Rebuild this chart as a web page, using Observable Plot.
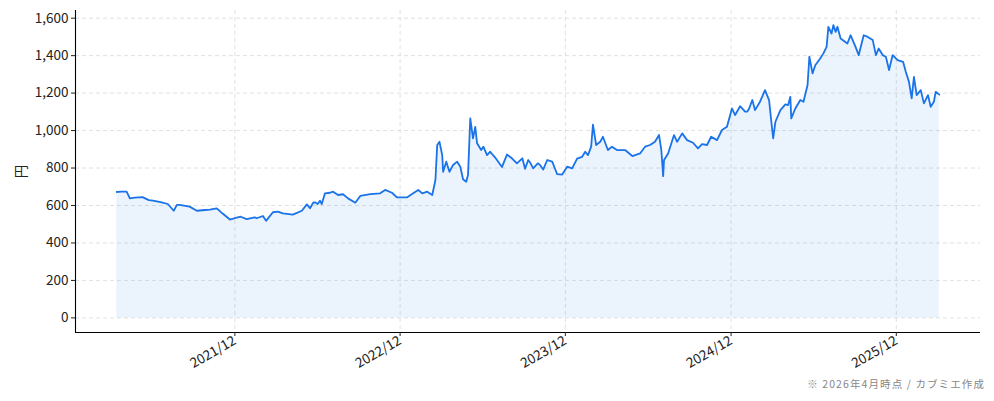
<!DOCTYPE html>
<html>
<head>
<meta charset="utf-8">
<script src="https://cdn.jsdelivr.net/npm/d3@7"></script>
<script src="https://cdn.jsdelivr.net/npm/@observablehq/plot@0.6"></script>
<style>
  html, body { margin: 0; padding: 0; background: #fff; }
  #wrap { position: relative; width: 994px; height: 401px; font-family: "Noto Sans CJK JP", "Noto Sans", sans-serif; }
  #caption { position: absolute; right: 9px; top: 376px; font-size: 10.5px; color: #888; letter-spacing: 1.1px; }
</style>
</head>
<body>
<div id="wrap"><div id="chart"></div><div id="caption">※ 2026年4月時点 / カブミエ作成</div></div>
<script>
const dates = [
"2021-03-15","2021-03-25","2021-04-06","2021-04-13","2021-04-24","2021-05-11","2021-05-25","2021-06-03","2021-06-20","2021-07-06",
"2021-07-19","2021-07-26","2021-08-01","2021-08-23","2021-09-08","2021-09-26","2021-10-07","2021-10-22","2021-11-04","2021-11-20",
"2021-12-05","2021-12-14","2021-12-27","2022-01-14","2022-01-18","2022-02-01","2022-02-08","2022-02-23","2022-03-06","2022-03-17",
"2022-04-08","2022-04-28","2022-05-09","2022-05-16","2022-05-23","2022-05-27","2022-06-02","2022-06-07","2022-06-11","2022-06-18",
"2022-06-29","2022-07-06","2022-07-17","2022-07-28","2022-08-08","2022-08-24","2022-09-04","2022-09-26","2022-10-18","2022-10-29",
"2022-11-13","2022-11-24","2022-12-16","2022-12-30","2023-01-10","2023-01-19","2023-01-30","2023-02-10","2023-02-17","2023-02-21",
"2023-02-26","2023-03-04","2023-03-06","2023-03-13","2023-03-20","2023-03-28","2023-04-06","2023-04-13","2023-04-19","2023-04-26",
"2023-04-30","2023-05-05","2023-05-11","2023-05-16","2023-05-20","2023-05-29","2023-06-03","2023-06-11","2023-06-18","2023-06-29",
"2023-07-14","2023-07-25","2023-08-05","2023-08-16","2023-08-28","2023-09-03","2023-09-10","2023-09-14","2023-09-21","2023-09-29",
"2023-10-02","2023-10-06","2023-10-13","2023-10-22","2023-11-02","2023-11-13","2023-11-24","2023-12-05","2023-12-16","2023-12-27",
"2024-01-07","2024-01-14","2024-01-20","2024-01-27","2024-01-31","2024-02-07","2024-02-16","2024-02-22","2024-03-04","2024-03-13",
"2024-03-24","2024-04-11","2024-04-27","2024-05-14","2024-05-25","2024-06-05","2024-06-16","2024-06-25","2024-06-30","2024-07-04",
"2024-07-06","2024-07-15","2024-07-28","2024-08-04","2024-08-15","2024-08-26","2024-09-08","2024-09-19","2024-09-28","2024-10-09",
"2024-10-18","2024-10-31","2024-11-11","2024-11-22","2024-12-03","2024-12-10","2024-12-21","2025-01-01","2025-01-06","2025-01-10",
"2025-01-17","2025-01-23","2025-02-03","2025-02-14","2025-02-23","2025-02-28","2025-03-04","2025-03-09","2025-03-20","2025-03-31",
"2025-04-06","2025-04-11","2025-04-13","2025-04-22","2025-05-03","2025-05-10","2025-05-19","2025-05-23","2025-05-30","2025-06-05",
"2025-06-16","2025-06-23","2025-06-30","2025-07-04","2025-07-11","2025-07-15","2025-07-20","2025-07-24","2025-07-31","2025-08-15",
"2025-08-22","2025-09-02","2025-09-09","2025-09-20","2025-09-29","2025-10-10","2025-10-17","2025-10-23","2025-11-01","2025-11-08",
"2025-11-15","2025-11-23","2025-12-04","2025-12-16","2025-12-22","2025-12-29","2026-01-04","2026-01-09","2026-01-15","2026-01-24",
"2026-01-31","2026-02-09","2026-02-15","2026-02-22","2026-02-26","2026-03-06"
];
const prices = [
672,674,674,638,642,645,629,626,618,608,
572,603,603,594,572,576,578,585,557,525,
535,540,527,537,532,544,518,564,567,558,
551,572,606,585,615,617,608,626,608,665,
668,674,656,660,638,615,651,661,665,683,
668,643,643,665,683,665,674,656,736,923,
940,869,780,834,780,816,834,807,740,727,
763,1065,958,1020,932,896,914,869,887,856,
805,872,852,825,852,796,843,830,798,820,
825,816,792,843,834,767,765,807,798,850,
860,887,869,914,1032,923,940,967,896,914,
896,896,864,878,914,923,940,976,896,757,
843,878,976,940,985,949,935,905,928,923,
967,949,1003,1020,1118,1083,1130,1101,1101,1118,
1163,1109,1154,1216,1163,1047,958,1047,1109,1140,
1136,1180,1065,1118,1163,1154,1243,1394,1305,1349,
1385,1412,1447,1554,1518,1563,1527,1554,1492,1465,
1509,1447,1403,1509,1500,1483,1403,1438,1403,1394,
1323,1403,1376,1367,1314,1260,1172,1287,1189,1216,
1145,1189,1127,1154,1207,1192
];
const xTickDates = ["2021-12-01","2022-12-01","2023-12-01","2024-12-01","2025-12-01"];
const yTicks = [0,200,400,600,800,1000,1200,1400,1600];
const xDomain = ["2020-12-14","2026-06-05"];
const yDomain = [-78, 1641];

const parse = d3.utcParse("%Y-%m-%d");
const data = dates.map((d, i) => ({date: parse(d), price: prices[i]}));
const xd = xDomain.map(parse);
const xt = xTickDates.map(parse);

const lineColor = "#1a73e8";
const gridStyle = {stroke: "#d9d9d9", strokeOpacity: 1, strokeDasharray: "4,3", strokeWidth: 0.8};

const chart = Plot.plot({
  width: 994,
  height: 401,
  marginLeft: 75,
  marginRight: 14,
  marginTop: 10,
  marginBottom: 69,
  style: {fontFamily: '"Noto Sans CJK JP", "Noto Sans", sans-serif', fontSize: "13.5px", color: "#222", background: "#fff"},
  x: {type: "utc", domain: xd},
  y: {domain: yDomain},
  marks: [
    Plot.gridY(yTicks, gridStyle),
    Plot.gridX(xt, gridStyle),
    Plot.areaY(data, {x: "date", y: "price", fill: lineColor, fillOpacity: 0.085}),
    Plot.line(data, {x: "date", y: "price", stroke: lineColor, strokeWidth: 1.8, strokeLinejoin: "round"}),
    Plot.ruleX([xd[0]], {stroke: "#000", strokeWidth: 1.1}),
    Plot.ruleY([yDomain[0]], {stroke: "#000", strokeWidth: 1.1}),
    Plot.axisY({ticks: yTicks, tickFormat: d3.format(","), tickSize: 4, tickPadding: 3,
      label: "円", labelAnchor: "center", labelArrow: "none", labelOffset: 59}),
    Plot.axisX({ticks: xt, tickFormat: d3.utcFormat("%Y/%m"), tickSize: 4, tickRotate: -30, tickPadding: 3, label: null})
  ]
});
document.getElementById("chart").appendChild(chart);
</script>
</body>
</html>
